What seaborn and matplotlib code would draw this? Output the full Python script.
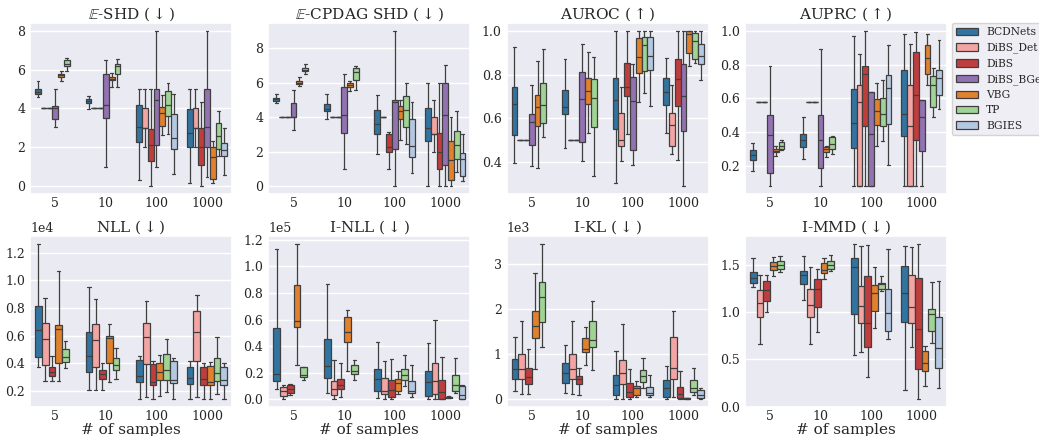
import numpy as np
import pandas as pd
import matplotlib
matplotlib.use("Agg")
import matplotlib.pyplot as plt
from matplotlib.ticker import MultipleLocator
import seaborn as sns

SAMPLES = ["5", "10", "100", "1000"]
METHODS = ["BCDNets", "DiBS_Det", "DiBS", "DiBS_BGe", "VBG", "TP", "BGIES"]
COLORS = ["#1f77b4", "#ff9896", "#d62728", "#9467bd", "#ff7f0e", "#98df8a", "#aec7e8"]

# one box per sample size: [whisker low, q1, median, q3, whisker high]; None = no run
E_SHD = {
    "BCDNets": [[4.6, 4.73, 4.85, 5.0, 5.4], [3.95, 4.3, 4.4, 4.5, 4.65], [0.3, 2.25, 3.05, 4.2, 5.0], [0.15, 2.0, 2.75, 3.95, 5.0]],
    "DiBS_Det": [[4, 4, 4, 4, 4], [4, 4, 4, 4, 4], [2.0, 3.0, 3.0, 4.0, 5.0], [2.0, 3.0, 3.0, 4.0, 5.0]],
    "DiBS": [[4, 4, 4, 4, 4], [4, 4, 4, 4, 4], [0.0, 1.3, 2.1, 2.95, 5.0], [0.0, 1.1, 2.0, 3.0, 4.35]],
    "DiBS_BGe": [[3.05, 3.45, 4.0, 4.15, 5.0], [1.0, 3.5, 4.2, 5.75, 6.5], [1.0, 2.1, 4.45, 5.0, 8.0], [0.45, 2.0, 3.05, 5.0, 8.0]],
    "VBG": [[5.4, 5.62, 5.7, 5.78, 5.95], [5.1, 5.45, 5.52, 5.6, 5.85], [2.65, 3.1, 3.75, 4.1, 4.7], [0.15, 0.35, 1.5, 2.0, 2.35]],
    "TP": [[5.95, 6.2, 6.3, 6.5, 6.6], [5.1, 5.8, 6.2, 6.3, 6.55], [2.7, 3.6, 4.2, 4.9, 5.3], [1.55, 1.9, 2.6, 3.25, 3.85]],
    "BGIES": [None, None, [0.65, 1.9, 2.5, 3.7, 4.75], [0.6, 1.55, 1.85, 2.2, 3.0]],
}
E_CPDAG_SHD = {
    "BCDNets": [[4.8, 4.95, 5.05, 5.1, 5.35], [3.9, 4.35, 4.45, 4.75, 5.35], [1.85, 3.05, 3.6, 4.4, 5.3], [0.0, 2.6, 3.35, 4.55, 5.95]],
    "DiBS_Det": [[4, 4, 4, 4, 4], [4, 4, 4, 4, 4], [4, 4, 4, 4, 4], [2.0, 3.0, 3.0, 4.0, 5.0]],
    "DiBS": [[4, 4, 4, 4, 4], [4, 4, 4, 4, 4], [1.0, 2.0, 2.25, 3.0, 3.15], [0.0, 1.0, 2.0, 3.1, 6.0]],
    "DiBS_BGe": [[3.25, 4.0, 4.0, 4.8, 5.55], [1.0, 3.1, 4.15, 5.75, 6.5], [0.0, 2.15, 4.9, 5.0, 9.0], [0.0, 1.2, 4.1, 6.0, 7.0]],
    "VBG": [[5.8, 5.9, 6.0, 6.1, 6.3], [5.5, 5.75, 5.85, 6.0, 6.1], [2.7, 3.9, 4.35, 4.65, 5.0], [0.0, 0.35, 1.5, 2.6, 4.0]],
    "TP": [[6.5, 6.65, 6.75, 6.85, 7.05], [5.55, 6.15, 6.6, 6.85, 6.95], [2.45, 3.4, 4.4, 5.25, 6.0], [0.8, 1.6, 2.4, 3.2, 4.35]],
    "BGIES": [None, None, [0.75, 1.7, 2.35, 3.9, 4.9], [0.3, 0.6, 1.6, 1.95, 3.05]],
}
AUROC = {
    "BCDNets": [[0.395, 0.525, 0.665, 0.745, 0.925], [0.465, 0.62, 0.65, 0.73, 0.87], [0.305, 0.55, 0.685, 0.785, 1.0], [0.535, 0.66, 0.72, 0.785, 0.875]],
    "DiBS_Det": [[0.5] * 5, [0.5] * 5, [0.405, 0.475, 0.5, 0.625, 0.745], [0.435, 0.475, 0.57, 0.625, 0.75]],
    "DiBS": [[0.5] * 5, [0.5] * 5, [0.53, 0.70, 0.745, 0.855, 1.0], [0.41, 0.655, 0.78, 0.87, 1.0]],
    "DiBS_BGe": [[0.38, 0.48, 0.585, 0.62, 0.75], [0.405, 0.49, 0.69, 0.81, 0.94], [0.385, 0.455, 0.68, 0.79, 0.85], [0.29, 0.54, 0.70, 0.85, 1.0]],
    "VBG": [[0.375, 0.565, 0.65, 0.705, 0.86], [0.535, 0.665, 0.725, 0.785, 0.905], [0.675, 0.805, 0.88, 0.965, 1.0], [0.84, 0.90, 0.985, 1.0, 1.0]],
    "TP": [[0.515, 0.58, 0.66, 0.76, 0.915], [0.335, 0.56, 0.695, 0.78, 0.88], [0.715, 0.815, 0.935, 0.97, 1.0], [0.855, 0.87, 0.955, 0.99, 1.0]],
    "BGIES": [None, None, [0.655, 0.82, 0.885, 0.97, 1.0], [0.775, 0.85, 0.885, 0.94, 1.0]],
}
AUPRC = {
    "BCDNets": [[0.17, 0.235, 0.265, 0.294, 0.336], [0.24, 0.313, 0.356, 0.39, 0.49], [0.08, 0.307, 0.457, 0.653, 0.97], [0.08, 0.38, 0.51, 0.766, 0.98]],
    "DiBS_Det": [[0.58] * 5, [0.58] * 5, [0.08, 0.08, 0.58, 0.68, 0.86], [0.08, 0.08, 0.434, 0.68, 0.92]],
    "DiBS": [[0.58] * 5, [0.58] * 5, [0.08, 0.434, 0.742, 0.79, 1.0], [0.08, 0.356, 0.62, 0.873, 0.99]],
    "DiBS_BGe": [[0.08, 0.16, 0.385, 0.50, 0.79], [0.08, 0.19, 0.356, 0.50, 0.89], [0.08, 0.08, 0.39, 0.64, 0.64], [0.08, 0.288, 0.49, 0.59, 0.59]],
    "VBG": [[0.26, 0.28, 0.29, 0.30, 0.32], [0.255, 0.284, 0.30, 0.31, 0.32], [0.32, 0.444, 0.526, 0.596, 0.69], [0.68, 0.742, 0.84, 0.916, 0.98]],
    "TP": [[0.297, 0.30, 0.32, 0.34, 0.356], [0.27, 0.30, 0.33, 0.37, 0.38], [0.346, 0.434, 0.506, 0.604, 0.71], [0.487, 0.55, 0.68, 0.73, 0.78]],
    "BGIES": [None, None, [0.204, 0.448, 0.66, 0.737, 0.916], [0.535, 0.62, 0.72, 0.77, 0.945]],
}
NLL = {  # x 1e4
    "BCDNets": [[0.37, 0.445, 0.64, 0.815, 1.265], [0.205, 0.335, 0.455, 0.63, 0.955], [0.145, 0.265, 0.31, 0.425, 0.45], [0.14, 0.25, 0.295, 0.375, 0.42]],
    "DiBS_Det": [[0.27, 0.39, 0.575, 0.695, 0.875], [0.21, 0.375, 0.57, 0.685, 0.865], [0.155, 0.395, 0.59, 0.69, 0.85], [0.155, 0.415, 0.625, 0.775, 0.895]],
    "DiBS": [[0.275, 0.31, 0.34, 0.37, 0.455], [0.21, 0.285, 0.325, 0.355, 0.405], [0.14, 0.24, 0.265, 0.395, 0.42], [0.14, 0.245, 0.285, 0.375, 0.405]],
    "VBG": [[0.27, 0.405, 0.645, 0.68, 1.07], [0.265, 0.40, 0.58, 0.595, 0.685], [0.165, 0.28, 0.34, 0.405, 0.46], [0.14, 0.245, 0.265, 0.38, 0.41]],
    "TP": [[0.365, 0.41, 0.445, 0.505, 0.565], [0.285, 0.355, 0.39, 0.435, 0.51], [0.19, 0.28, 0.35, 0.465, 0.575], [0.18, 0.275, 0.33, 0.44, 0.59]],
    "BGIES": [None, None, [0.14, 0.255, 0.28, 0.42, 0.44], [0.14, 0.24, 0.28, 0.37, 0.405]],
}
I_NLL = {  # x 1e5
    "BCDNets": [[0.075, 0.1375, 0.19, 0.5375, 1.13], [0.05, 0.1625, 0.25, 0.455, 0.87], [0.01, 0.06, 0.155, 0.225, 0.43], [0.005, 0.025, 0.13, 0.21, 0.42]],
    "DiBS_Det": [[0.005, 0.025, 0.065, 0.095, 0.11], [0.005, 0.03, 0.08, 0.14, 0.295], [0.005, 0.04, 0.065, 0.16, 0.29], [0.005, 0.04, 0.135, 0.275, 0.60]],
    "DiBS": [[0.035, 0.045, 0.075, 0.105, 0.115], [0.02, 0.075, 0.105, 0.155, 0.27], [0.0, 0.015, 0.07, 0.145, 0.305], [0.0, 0.005, 0.055, 0.145, 0.315]],
    "VBG": [[0.26, 0.5425, 0.59, 0.8625, 1.17], [0.21, 0.43, 0.505, 0.6175, 0.67], [0.04, 0.065, 0.12, 0.155, 0.21], [0.008, 0.012, 0.015, 0.02, 0.025]],
    "TP": [[0.145, 0.17, 0.18, 0.24, 0.24], [0.145, 0.19, 0.21, 0.255, 0.295], [0.10, 0.145, 0.18, 0.23, 0.335], [0.05, 0.065, 0.105, 0.185, 0.31]],
    "BGIES": [None, None, [0.015, 0.045, 0.065, 0.135, 0.255], [0.0, 0.005, 0.035, 0.10, 0.11]],
}
I_KL = {  # x 1e3
    "BCDNets": [[0.185, 0.45, 0.67, 0.896, 1.38], [0.14, 0.37, 0.58, 0.8, 1.2], [0.0, 0.1, 0.32, 0.53, 1.08], [0.0, 0.05, 0.24, 0.42, 0.74]],
    "DiBS_Det": [[0.12, 0.45, 0.67, 1.0, 1.74], [0.12, 0.45, 0.66, 1.0, 1.74], [0.0, 0.33, 0.58, 0.88, 1.68], [0.05, 0.45, 0.7, 1.38, 1.95]],
    "DiBS": [[0.12, 0.33, 0.5, 0.7, 1.12], [0.09, 0.33, 0.44, 0.52, 0.7], [0.0, 0.05, 0.16, 0.37, 0.68], [0.0, 0.03, 0.12, 0.27, 0.62]],
    "VBG": [[0.67, 1.35, 1.62, 1.95, 2.8], [0.77, 1.05, 1.12, 1.35, 1.6], [0.05, 0.1, 0.24, 0.3, 0.4], [0.01, 0.015, 0.02, 0.025, 0.03]],
    "TP": [[1.16, 1.72, 2.27, 2.6, 3.45], [0.64, 1.15, 1.32, 1.73, 2.19], [0.25, 0.38, 0.52, 0.65, 0.92], [0.1, 0.15, 0.24, 0.42, 0.7]],
    "BGIES": [None, None, [0.05, 0.1, 0.14, 0.27, 0.53], [0.01, 0.03, 0.1, 0.2, 0.26]],
}
I_MMD = {
    "BCDNets": [[1.26, 1.31, 1.36, 1.42, 1.57], [1.124, 1.29, 1.387, 1.43, 1.588], [0.544, 0.976, 1.475, 1.57, 1.72], [0.176, 0.889, 1.205, 1.486, 1.70]],
    "DiBS_Det": [[0.657, 0.948, 1.09, 1.236, 1.39], [0.657, 0.948, 1.07, 1.247, 1.48], [0.58, 0.885, 1.06, 1.27, 1.70], [0.625, 0.878, 1.047, 1.394, 1.686]],
    "DiBS": [[1.0, 1.113, 1.23, 1.324, 1.387], [0.79, 1.054, 1.24, 1.345, 1.45], [0.316, 0.625, 0.878, 1.377, 1.71], [0.077, 0.397, 0.818, 1.36, 1.72]],
    "VBG": [[1.377, 1.447, 1.486, 1.528, 1.58], [1.345, 1.415, 1.447, 1.52, 1.57], [0.832, 1.011, 1.205, 1.289, 1.475], [0.218, 0.379, 0.457, 0.587, 0.64]],
    "TP": [[1.42, 1.45, 1.50, 1.538, 1.59], [1.43, 1.458, 1.50, 1.535, 1.605], [1.22, 1.24, 1.29, 1.31, 1.38], [0.674, 0.797, 0.973, 1.033, 1.317]],
    "BGIES": [None, None, [0.71, 0.80, 0.99, 1.247, 1.66], [0.2, 0.404, 0.615, 0.941, 1.328]],
}

# (title, table, scale of stored values, y tick step in data units or None)
PANELS = [
    (r"$\mathbb{E}$-SHD ($\downarrow$)", E_SHD, 1, None),
    (r"$\mathbb{E}$-CPDAG SHD ($\downarrow$)", E_CPDAG_SHD, 1, None),
    (r"AUROC ($\uparrow$)", AUROC, 1, None),
    (r"AUPRC ($\uparrow$)", AUPRC, 1, None),
    (r"NLL ($\downarrow$)", NLL, 1e4, 0.2e4),
    (r"I-NLL ($\downarrow$)", I_NLL, 1e5, 0.2e5),
    (r"I-KL ($\downarrow$)", I_KL, 1e3, 1e3),
    (r"I-MMD ($\downarrow$)", I_MMD, 1, None),
]


def to_long(table, scale):
    rows = []
    for method, boxes in table.items():
        for n, vals in zip(SAMPLES, boxes):
            if vals is None:
                continue
            for v in vals:
                rows.append({"n": n, "method": method, "value": v * scale})
    return pd.DataFrame(rows)


def main():
    sns.set_theme(style="darkgrid")
    plt.rcParams["font.family"] = ["DejaVu Serif", "DejaVu Sans"]
    plt.rcParams["mathtext.fontset"] = "dejavuserif"

    palette = dict(zip(METHODS, COLORS))
    fig, axes = plt.subplots(2, 4, figsize=(10.39, 4.36), dpi=100)
    fig.subplots_adjust(left=30 / 1039, right=947 / 1039, top=1 - 23 / 436,
                        bottom=1 - 407 / 436, wspace=0.178, hspace=0.246)

    for i, (title, table, scale, step) in enumerate(PANELS):
        ax = axes.flat[i]
        df = to_long(table, scale)
        hue_order = [m for m in METHODS if m in table]
        sns.boxplot(data=df, x="n", y="value", hue="method", order=SAMPLES,
                    hue_order=hue_order, palette=palette, whis=(0, 100),
                    linewidth=0.9, ax=ax, legend=(i == 3))
        ax.set_title(title, fontsize=11, pad=3)
        ax.set_ylabel("")
        ax.tick_params(axis="x", labelsize=9, length=0, pad=2)
        ax.tick_params(axis="y", labelsize=9, length=0, pad=3.5)
        if step is not None:
            ax.yaxis.set_major_locator(MultipleLocator(step))
        if scale != 1:
            ax.ticklabel_format(axis="y", style="sci", scilimits=(0, 0))
            ax.yaxis.get_offset_text().set_fontsize(9)
        if i >= 4:
            ax.set_xlabel("# of samples", fontsize=11, labelpad=0)
        else:
            ax.set_xlabel("")

    # legend sits right of the last top panel and runs off the figure edge, as in the source
    sns.move_legend(axes[0, 3], "upper left", bbox_to_anchor=(1.025, 1.0),
                    borderaxespad=0, title=None, fontsize=7.7, frameon=True)

    fig.savefig("out.png", dpi=100)


if __name__ == "__main__":
    main()
